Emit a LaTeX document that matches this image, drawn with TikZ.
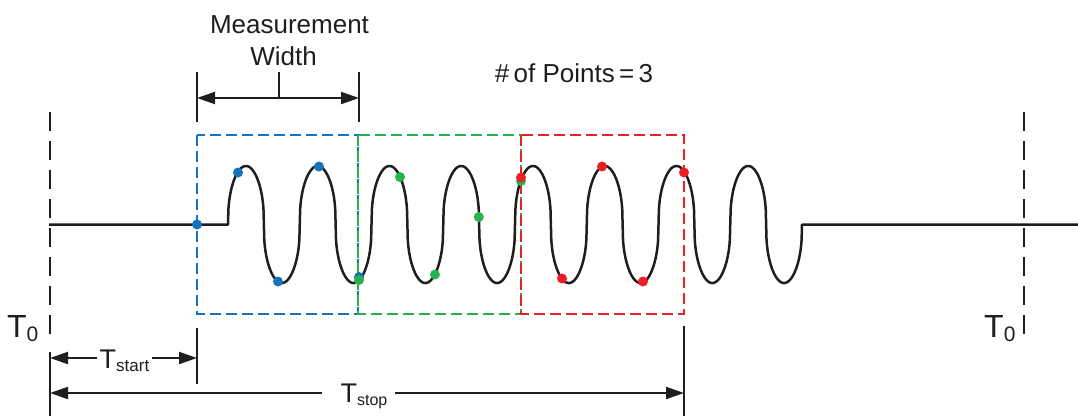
\documentclass[tikz,border=0pt]{standalone}
\usepackage{fontspec}
\setmainfont{Liberation Sans}
\usetikzlibrary{arrows.meta}
\definecolor{bxblue}{RGB}{24,113,187}
\definecolor{bxgreen}{RGB}{38,178,76}
\definecolor{bxred}{RGB}{237,30,36}
\definecolor{ink}{RGB}{30,30,30}
\begin{document}
\begin{tikzpicture}[x=1pt,y=-1pt,
  sig/.style={line width=2.5pt, line join=round, ink},
  dim/.style={line width=2pt, ink},
  tip/.tip={Triangle[length=18pt,width=12pt]},
  arr/.style={dim, -tip},
  arrboth/.style={dim, tip-tip},
  tzero/.style={line width=2pt, ink, dash pattern=on 18.5pt off 10.5pt},
  win/.style={line width=1.8pt, dash pattern=on 11pt off 5pt},
  dotb/.style={circle, fill=bxblue, inner sep=0pt, minimum size=10pt},
  dotg/.style={circle, fill=bxgreen, inner sep=0pt, minimum size=10pt},
  dotr/.style={circle, fill=bxred, inner sep=0pt, minimum size=10pt},
  lbl/.style={font=\fontsize{26}{30}\selectfont, inner sep=0pt, text=ink},
  tlbl/.style={inner sep=0pt, text=ink}
]
\useasboundingbox (0,0) rectangle (1078,416);

% coordinates
\coordinate (s0) at (49,224.5);
\coordinate (s1) at (228,224.5);
\coordinate (s3) at (1078,224.5);

% measurement windows
\draw[win, bxblue] (197,135) rectangle (358,314);
\draw[win, bxgreen] (358,135) rectangle (521,314);
\draw[win, bxred] (521,135) rectangle (684,314);

% T0 lines
\draw[tzero] (50,112) -- (50,334);
\draw[tzero] (1024,112) -- (1024,334);

% signal
\draw[sig] (s0) -- (s1) -- plot[domain=0:2880, samples=1441]
  ({228+\x/360*71.75},{224.5-58.5*sign(sin(\x))*pow(abs(sin(\x))+0.00001,0.4)})
  -- (s3);

% sample points
\node[dotb] (b1) at (197,224.5) {};
\node[dotb] (b2) at (238,172.5) {};
\node[dotb] (b3) at (278,281.5) {};
\node[dotb] (b4) at (319,166.5) {};
\node[dotb] (b5) at (359,277) {};
\node[dotg] (g1) at (359,280) {};
\node[dotg] (g2) at (400,177) {};
\node[dotg] (g3) at (435,274.5) {};
\node[dotg] (g4) at (478.8,217) {};
\node[dotg] (g5) at (521,181) {};
\node[dotr] (r1) at (521,177.5) {};
\node[dotr] (r2) at (562,278.5) {};
\node[dotr] (r3) at (602,166.5) {};
\node[dotr] (r4) at (643,281.5) {};
\node[dotr] (r5) at (684,172.5) {};

% measurement width dimension
\coordinate (mwl) at (197,98);
\coordinate (mwr) at (359,98);
\coordinate (mwlt) at (197,72);
\coordinate (mwlb) at (197,122);
\coordinate (mwrt) at (359,72);
\coordinate (mwrb) at (359,122);
\coordinate (mwc) at (279,98);
\coordinate (mwct) at (279,72);
\draw[dim] (mwlt) -- (mwlb);
\draw[dim] (mwrt) -- (mwrb);
\draw[dim] (mwct) -- (mwc);
\draw[arrboth] (mwl) -- (mwr);

\node[lbl, anchor=base] (meas) at (289.5,33) {Measurement};
\node[lbl, anchor=base] (wid) at (283.5,65) {Width};
\node[lbl, anchor=base] (npts) at (574,82) {\#\,of Points\,=\,3};

% T0 labels
\node[tlbl, anchor=base west] (t0l) at (7,337)
  {\fontsize{32}{35}\selectfont T\raisebox{-4pt}{\fontsize{21}{24}\selectfont 0}};
\node[tlbl, anchor=base west] (t0r) at (984,337)
  {\fontsize{32}{35}\selectfont T\raisebox{-4pt}{\fontsize{21}{24}\selectfont 0}};

% bottom extension lines
\coordinate (e0t) at (50,352);
\coordinate (e0b) at (50,416);
\coordinate (e1t) at (197,328);
\coordinate (e1b) at (197,384);
\coordinate (e2t) at (684,326);
\coordinate (e2b) at (684,416);
\draw[dim] (e0t) -- (e0b);
\draw[dim] (e1t) -- (e1b);
\draw[dim] (e2t) -- (e2b);

% T start
\node[tlbl, anchor=base] (tst) at (124.5,368.5)
  {\fontsize{27}{30}\selectfont T\raisebox{-3pt}{\fontsize{17}{20}\selectfont start}};
\coordinate (tsl) at (50,358);
\coordinate (tsr) at (197,358);
\coordinate (tsa) at (97,358);
\coordinate (tsb) at (152,358);
\draw[arr] (tsa) -- (tsl);
\draw[arr] (tsb) -- (tsr);

% T stop
\node[tlbl, anchor=base] (tsp) at (364,402)
  {\fontsize{27}{30}\selectfont T\raisebox{-3pt}{\fontsize{16}{20}\selectfont stop}};
\coordinate (tpl) at (50,393);
\coordinate (tpr) at (684,393);
\coordinate (tpa) at (322,393);
\coordinate (tpb) at (395,393);
\draw[arr] (tpa) -- (tpl);
\draw[arr] (tpb) -- (tpr);
\end{tikzpicture}
\end{document}
